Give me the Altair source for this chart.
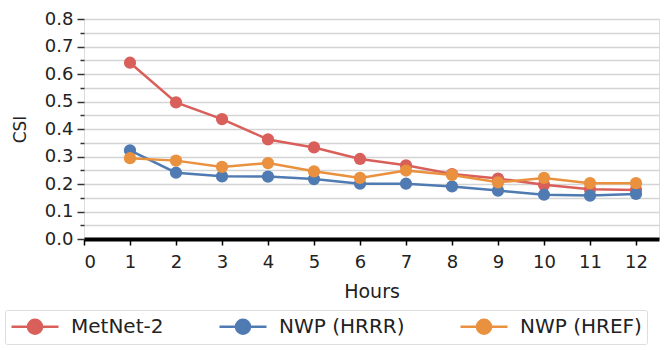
import altair as alt
import pandas as pd

hours = [1, 2, 3, 4, 5, 6, 7, 8, 9, 10, 11, 12]
metnet2 = [0.641, 0.497, 0.436, 0.362, 0.333, 0.291, 0.268, 0.236, 0.220, 0.197, 0.181, 0.178]
hrrr = [0.322, 0.241, 0.228, 0.227, 0.218, 0.201, 0.201, 0.191, 0.176, 0.161, 0.158, 0.164]
href = [0.294, 0.285, 0.262, 0.276, 0.246, 0.222, 0.249, 0.233, 0.206, 0.222, 0.203, 0.203]

series_names = ["MetNet-2", "NWP (HRRR)", "NWP (HREF)"]
series_colors = ["#d9605a", "#4f7ab2", "#e9913f"]
x_ticks = list(range(0, 13))
y_ticks = [round(i * 0.05, 2) for i in range(0, 17)]

rows = []
for name, vals in zip(series_names, [metnet2, hrrr, href]):
    for h, v in zip(hours, vals):
        rows.append({"Hours": h, "CSI": v, "Model": name})
df = pd.DataFrame(rows)

FONT = "DejaVu Sans"

legend_symbol = (
    "M-1,0L3.7,0"
    "M2.05,0A0.7,0.7 0 1,1 0.65,0A0.7,0.7 0 1,1 2.05,0Z"
)

color = alt.Color(
    "Model:N",
    scale=alt.Scale(domain=series_names, range=series_colors),
    legend=alt.Legend(
        title=None,
        orient="none",
        legendX=-79,
        legendY=291,
        direction="horizontal",
        symbolType=legend_symbol,
        symbolSize=400,
        symbolStrokeWidth=2.5,
        symbolOpacity=1,
        labelFont=FONT,
        labelFontSize=20,
        labelColor="#222222",
        labelOffset=38,
        columnPadding=50,
        padding=5,
        strokeColor="#dddddd",
        cornerRadius=2,
        fillColor="white",
    ),
)

x_enc = alt.X(
    "Hours:Q",
    scale=alt.Scale(domain=[0, 12.5], nice=False, zero=False),
    axis=alt.Axis(
        values=x_ticks,
        grid=False,
        domainColor="black",
        domainWidth=4,
        tickColor="black",
        tickWidth=1.5,
        tickSize=6,
        labelFont=FONT,
        labelFontSize=18,
        labelColor="#222222",
        labelPadding=8,
        title="Hours",
        titleFont=FONT,
        titleFontSize=19,
        titleFontWeight="normal",
        titleColor="#222222",
        titlePadding=11,
    ),
)

y_enc = alt.Y(
    "CSI:Q",
    scale=alt.Scale(domain=[0, 0.8], nice=False),
    axis=alt.Axis(
        values=y_ticks,
        grid=True,
        gridColor="#d4d4d4",
        gridWidth=1.5,
        domain=False,
        tickColor="#333333",
        tickWidth=1.5,
        tickSize={"condition": {"test": "round(datum.value*100) % 10 == 0", "value": 7}, "value": 4},
        labelExpr="round(datum.value*100) % 10 == 0 ? format(datum.value, '.1f') : ''",
        labelFont=FONT,
        labelFontSize=18,
        labelColor="#222222",
        labelPadding=4,
        title="CSI",
        titleFont=FONT,
        titleFontSize=17,
        titleFontWeight="normal",
        titleColor="#222222",
        titlePadding=15,
    ),
)

layers = []
for name in series_names:
    sub = df[df["Model"] == name]
    base = alt.Chart(sub).encode(x=x_enc, y=y_enc, color=color)
    layers.append(base.mark_line(strokeWidth=2.5))
    layers.append(base.mark_point(filled=True, size=150, opacity=1, shape="circle", strokeWidth=2.5))

chart = alt.layer(*layers).properties(
    width=575,
    height=220,
    autosize=alt.AutoSizeParams(type="none"),
    padding={"top": 19, "left": 84, "right": 13, "bottom": 111},
).configure_view(stroke=None).configure(background="white")

chart.save("out.html", embed_options={"renderer": "svg", "actions": False})
